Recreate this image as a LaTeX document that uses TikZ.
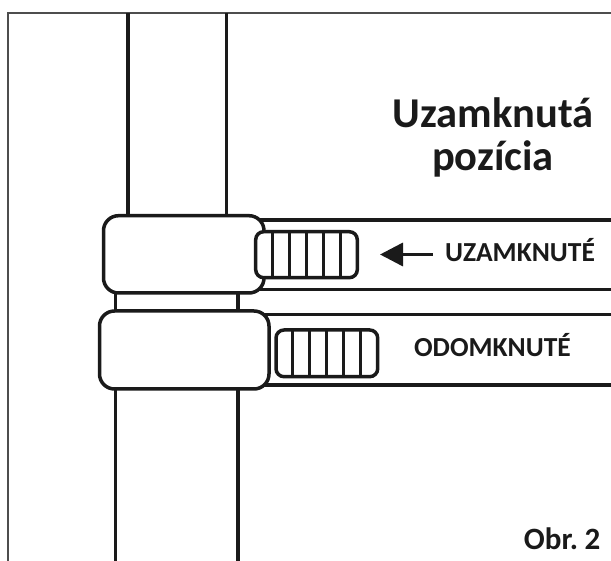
\documentclass[tikz,border=0pt]{standalone}
\usepackage{fontspec}
\setmainfont{Carlito}
\usetikzlibrary{arrows.meta}
\definecolor{ink}{HTML}{1A1A1A}
\definecolor{frameg}{HTML}{4D4D4D}
\tikzset{
  ln/.style={draw=ink,line width=3.5pt},
  clampbox/.style={ln,fill=white,rounded corners=15pt},
  sliderbox/.style={ln,fill=white,rounded corners=8pt},
  bar/.style={draw=ink,line width=3pt},
  lab/.style={text=ink,font=\bfseries,inner sep=0pt,align=center},
}
\begin{document}
\begin{tikzpicture}[x=1pt,y=-1pt]
\useasboundingbox (0,0) rectangle (611,561);
% frame
\draw[frameg,line width=1.8pt] (8,561) -- (8,13) -- (611,13);
% poles
\draw[ln] (128,13) -- (128,216) (226.5,13) -- (226.5,216);
\draw[ln] (115.7,293) -- (115.7,312) (238,293) -- (238,312);
\draw[ln] (115.7,389) -- (115.7,561) (238,389) -- (238,561);
% straps
\draw[ln] (255,220) -- (611,220) (255,289.5) -- (611,289.5);
\draw[ln] (260,314.7) -- (611,314.7) (260,385) -- (611,385);
% clamps
\draw[clampbox] (103.5,215.7) rectangle (264,293);
\draw[clampbox] (99.5,311) rectangle (269,389);
% sliders
\draw[sliderbox] (255.7,231.7) rectangle (357.3,277.7);
\foreach \x in {272.3,289.3,306.3,323.3,340.3} \draw[bar] (\x,231.7) -- (\x,277.7);
\draw[sliderbox] (276,330) rectangle (377.7,376.7);
\foreach \x in {292.7,309.7,326.7,343.7,360.7} \draw[bar] (\x,330) -- (\x,376.7);
% arrow
\coordinate (astart) at (432.7,254.5);
\coordinate (aend) at (380,254.5);
\draw[draw=ink,line width=3.5pt,-{Triangle[length=23pt,width=23pt,fill=ink]}] (astart) -- (aend);
% text
\node[lab,anchor=base,font=\bfseries\fontsize{42.5}{43}\selectfont] (t1) at (493,128) {Uzamknutá};
\node[lab,anchor=base,font=\bfseries\fontsize{42.5}{43}\selectfont] (t2) at (493,170.5) {pozícia};
\node[lab,anchor=base,font=\bfseries\fontsize{27.5}{28}\selectfont] (u) at (520,262) {UZAMKNUTÉ};
\node[lab,anchor=base,font=\bfseries\fontsize{27.5}{28}\selectfont] (o) at (492.5,357) {ODOMKNUTÉ};
\node[lab,anchor=base east,font=\bfseries\fontsize{31}{31}\selectfont] (f) at (600.5,549) {Obr.\hspace{6.5pt}2};
\end{tikzpicture}
\end{document}
